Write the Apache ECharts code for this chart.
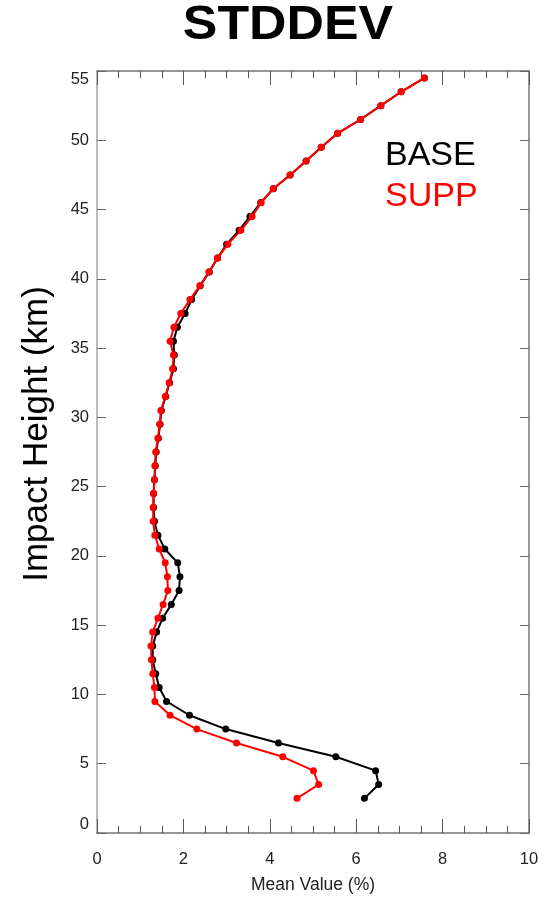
<!DOCTYPE html>
<html>
<head>
<meta charset="utf-8">
<script src="https://cdn.jsdelivr.net/npm/echarts@6/dist/echarts.min.js"></script>
<style>
html,body{margin:0;padding:0;background:#fff;}
#c{width:550px;height:899px;}
</style>
</head>
<body>
<div id="c"></div>
<script>
// Impact heights (km)
var heights = [2.5,3.5,4.5,5.5,6.5,7.5,8.5,9.5,10.5,11.5,12.5,13.5,14.5,15.5,16.5,17.5,18.5,19.5,20.5,21.5,22.5,23.5,24.5,25.5,26.5,27.5,28.5,29.5,30.5,31.5,32.5,33.5,34.5,35.5,36.5,37.5,38.5,39.5,40.5,41.5,42.5,43.5,44.5,45.5,46.5,47.5,48.5,49.5,50.5,51.5,52.5,53.5,54.5];
// BASE values (%)
var baseValues = [6.19,6.52,6.45,5.53,4.20,2.98,2.14,1.61,1.44,1.36,1.29,1.29,1.38,1.52,1.72,1.90,1.92,1.87,1.57,1.41,1.33,1.31,1.31,1.33,1.35,1.37,1.42,1.46,1.49,1.59,1.68,1.77,1.79,1.77,1.86,2.04,2.19,2.39,2.60,2.79,3.00,3.29,3.54,3.79,4.08,4.47,4.84,5.19,5.57,6.10,6.57,7.04,7.58];
// SUPP values (%)
var suppValues = [4.63,5.13,5.01,4.30,3.23,2.31,1.69,1.34,1.33,1.29,1.26,1.25,1.29,1.41,1.53,1.64,1.63,1.58,1.44,1.34,1.30,1.30,1.31,1.33,1.34,1.36,1.41,1.45,1.48,1.58,1.67,1.75,1.77,1.69,1.78,1.94,2.15,2.38,2.59,2.79,3.03,3.33,3.59,3.80,4.08,4.47,4.84,5.19,5.57,6.10,6.57,7.04,7.58];
var seriesNames = ['BASE','SUPP'];
var titleText = 'STDDEV';
var xName = 'Mean Value (%)';
var yName = 'Impact Height (km)';

function pairs(vals){ return vals.map(function(v,i){ return [v, heights[i]]; }); }

var chart = echarts.init(document.getElementById('c'));
var xCommon = {
  type:'value', min:0, max:10, interval:2,
  axisLine:{show:true, onZero:false, lineStyle:{color:'#777', width:1.5}},
  axisTick:{show:true, inside:true, length:14, lineStyle:{color:'#555', width:1}},
  minorTick:{show:true, splitNumber:4, length:7, lineStyle:{color:'#555', width:1}},
  splitLine:{show:false}
};
var yCommon = {
  type:'value', min:0, max:55, interval:5,
  axisTick:{show:true, inside:true, length:9, lineStyle:{color:'#666', width:1}},
  splitLine:{show:false}
};
var option = {
  backgroundColor:'#fff',
  animation:false,
  graphic:[{
    type:'text', x:288, y:26, scaleX:1.08, scaleY:1,
    style:{text:titleText, font:'bold 48px "Liberation Sans"', fill:'#000',
      align:'center', verticalAlign:'middle', textAlign:'center', textVerticalAlign:'middle'}
  }],
  legend:{
    orient:'vertical', left:375, top:134, itemWidth:0, itemHeight:0, itemGap:7,
    selectedMode:false,
    data:[
      {name:seriesNames[0], icon:'none', textStyle:{color:'#000'}},
      {name:seriesNames[1], icon:'none', textStyle:{color:'#f00'}}
    ],
    textStyle:{fontFamily:'Liberation Sans', fontSize:34}
  },
  grid:{left:97, right:21, top:71, bottom:65},
  xAxis:[
    Object.assign({}, xCommon, {
      position:'bottom',
      name:xName, nameLocation:'middle', nameGap:43,
      nameTextStyle:{fontFamily:'Liberation Sans', fontSize:17.5, color:'#222'},
      axisLabel:{show:true, margin:18, fontFamily:'Liberation Sans', fontSize:16.5, color:'#222'}
    }),
    Object.assign({}, xCommon, {position:'top', axisLabel:{show:false}})
  ],
  yAxis:[
    Object.assign({}, yCommon, {
      position:'left',
      axisLine:{show:true, onZero:false, lineStyle:{color:'#bbb', width:2}},
      name:yName, nameLocation:'middle', nameGap:42,
      nameTextStyle:{fontFamily:'Liberation Sans', fontSize:35, color:'#000', padding:[0,0,0,36]},
      axisLabel:{show:true, margin:8, fontFamily:'Liberation Sans', fontSize:16.5, color:'#222',
        verticalAlignMinLabel:'bottom', verticalAlignMaxLabel:'top'}
    }),
    Object.assign({}, yCommon, {
      position:'right',
      axisLine:{show:true, onZero:false, lineStyle:{color:'#777', width:1.5}},
      axisLabel:{show:false}
    })
  ],
  series:[
    {name:seriesNames[0], type:'line', data:pairs(baseValues), xAxisIndex:0, yAxisIndex:0,
     color:'#000', symbol:'circle', symbolSize:7, showAllSymbol:true,
     lineStyle:{width:2, color:'#000'}, itemStyle:{color:'#000'}, z:2},
    {name:seriesNames[1], type:'line', data:pairs(suppValues), xAxisIndex:0, yAxisIndex:0,
     color:'#f00', symbol:'circle', symbolSize:7, showAllSymbol:true,
     lineStyle:{width:2, color:'#f00'}, itemStyle:{color:'#f00'}, z:3}
  ]
};
chart.setOption(option);
</script>
</body>
</html>
